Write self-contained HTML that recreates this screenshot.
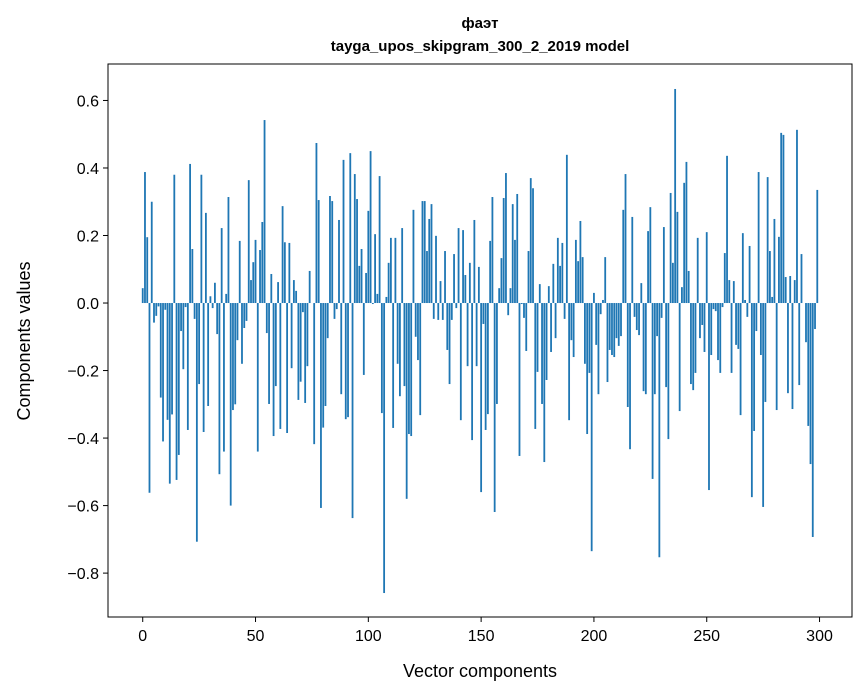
<!DOCTYPE html>
<html><head><meta charset="utf-8">
<style>
body{margin:0;background:#fff;}
svg{display:block;font-family:"Liberation Sans","DejaVu Sans",sans-serif;}
</style></head>
<body>
<svg id="chart" width="867" height="696" viewBox="0 0 867 696" xmlns="http://www.w3.org/2000/svg">
<rect width="867" height="696" fill="#fff"/>
<text x="480" y="28" text-anchor="middle" font-size="15" font-weight="bold">фаэт</text>
<text x="480" y="51" text-anchor="middle" font-size="15" font-weight="bold">tayga_upos_skipgram_300_2_2019 model</text>
<g id="bars"></g>
<g id="axes"></g>
<text x="480" y="677" text-anchor="middle" font-size="18">Vector components</text>
<text transform="translate(30,341) rotate(-90)" text-anchor="middle" font-size="18">Components values</text>
</svg>
<script>
const values = [0.044,0.388,0.195,-0.562,0.30,-0.058,-0.038,-0.01,-0.28,-0.41,
-0.02,-0.346,-0.535,-0.33,0.38,-0.524,-0.45,-0.083,-0.196,-0.012,
-0.376,0.412,0.16,-0.047,-0.707,-0.24,0.38,-0.382,0.267,-0.305,
0.02,-0.015,0.06,-0.092,-0.507,0.222,-0.44,0.027,0.314,-0.60,
-0.317,-0.30,-0.11,0.184,-0.18,-0.074,-0.053,0.364,0.068,0.121,
0.187,-0.44,0.157,0.24,0.542,-0.089,-0.299,0.086,-0.394,-0.246,
0.062,-0.373,0.287,0.18,-0.385,0.178,-0.193,0.068,0.036,-0.287,
-0.233,-0.027,-0.296,-0.187,0.095,0.0,-0.418,0.474,0.305,-0.607,
-0.369,-0.305,-0.104,0.317,0.302,-0.047,-0.018,0.246,-0.27,0.424,
-0.344,-0.338,0.444,-0.637,0.382,0.308,0.11,0.16,-0.213,0.089,
0.273,0.45,-0.003,0.204,0.027,0.376,-0.326,-0.859,0.018,0.119,
0.193,-0.37,0.193,-0.18,-0.276,0.222,-0.246,-0.58,-0.388,-0.394,
0.276,-0.10,-0.169,-0.332,0.302,0.302,0.154,0.249,0.293,-0.047,
0.199,-0.05,0.065,-0.05,0.154,-0.139,-0.24,-0.05,0.145,-0.015,
0.222,-0.347,0.216,0.083,-0.187,0.119,-0.406,0.246,-0.187,0.107,
-0.56,-0.062,-0.376,-0.329,0.184,0.314,-0.619,-0.299,0.044,0.133,
0.311,0.385,-0.036,0.044,0.293,0.187,0.323,-0.453,-0.003,-0.044,
-0.142,0.154,0.37,0.34,-0.373,-0.204,0.056,-0.299,-0.471,-0.228,
0.05,-0.145,0.116,-0.104,0.193,0.11,0.178,-0.047,0.439,-0.347,
-0.11,-0.16,0.187,0.124,0.243,0.136,-0.18,-0.388,-0.207,-0.735,
0.03,-0.124,-0.27,-0.033,0.009,0.136,-0.234,-0.139,-0.154,-0.16,
-0.104,-0.127,-0.098,0.276,0.382,-0.308,-0.433,0.255,-0.041,-0.08,
-0.095,0.059,-0.261,-0.27,0.213,0.284,-0.521,-0.27,-0.098,-0.753,
-0.044,0.225,-0.249,-0.403,0.326,0.119,0.634,0.27,-0.32,0.047,
0.356,0.418,0.095,-0.24,-0.258,-0.207,0.193,-0.104,-0.065,-0.145,
0.21,-0.554,-0.154,-0.018,-0.024,-0.169,-0.207,-0.012,0.148,0.436,
0.068,-0.207,0.065,-0.124,-0.136,-0.332,0.207,0.009,-0.041,0.169,
-0.575,-0.379,-0.083,0.388,-0.154,-0.604,-0.293,0.373,0.154,0.018,
0.249,-0.317,0.196,0.504,0.498,0.077,-0.267,0.08,-0.314,0.068,
0.513,-0.243,0.145,0.0,-0.116,-0.364,-0.477,-0.693,-0.077,0.335];
const xTicks = [0,50,100,150,200,250,300];
const yTicks = [-0.8,-0.6,-0.4,-0.2,0.0,0.2,0.4,0.6];

const NS="http://www.w3.org/2000/svg";
const L=108,R=852,T=64,B=617;
const n=values.length;
const xmin=-0.4-0.05*(n-0.2), xmax=(n-1)+0.4+0.05*(n-0.2);
const ymin=-0.930, ymax=0.708;
function xs(v){return L+(v-xmin)/(xmax-xmin)*(R-L);}
function ys(v){return B-(v-ymin)/(ymax-ymin)*(B-T);}
const bars=document.getElementById('bars');
values.forEach((v,i)=>{
  const r=document.createElementNS(NS,'rect');
  const x0=xs(i-0.4),x1=xs(i+0.4);
  const y0=ys(Math.max(v,0)),y1=ys(Math.min(v,0));
  r.setAttribute('x',x0);r.setAttribute('width',x1-x0);
  r.setAttribute('y',y0);r.setAttribute('height',Math.max(y1-y0,0.01));
  r.setAttribute('fill','#1f77b4');
  
  
  bars.appendChild(r);
});
const axes=document.getElementById('axes');
const frame=document.createElementNS(NS,'rect');
frame.setAttribute('x',L);frame.setAttribute('y',T);frame.setAttribute('width',R-L);frame.setAttribute('height',B-T);
frame.setAttribute('fill','none');frame.setAttribute('stroke','#000');frame.setAttribute('stroke-width','1');


axes.appendChild(frame);
xTicks.forEach(t=>{
  const x=xs(t);
  const l=document.createElementNS(NS,'line');
  l.setAttribute('x1',x);l.setAttribute('x2',x);l.setAttribute('y1',B);l.setAttribute('y2',B+5);l.setAttribute('stroke','#000');
  
  
  axes.appendChild(l);
  const tx=document.createElementNS(NS,'text');
  tx.setAttribute('x',x);tx.setAttribute('y',B+24);tx.setAttribute('text-anchor','middle');tx.setAttribute('font-size','16');
  tx.textContent=t;
  
  
  axes.appendChild(tx);
});
yTicks.forEach(t=>{
  const y=ys(t);
  const l=document.createElementNS(NS,'line');
  l.setAttribute('x1',L-5);l.setAttribute('x2',L);l.setAttribute('y1',y);l.setAttribute('y2',y);l.setAttribute('stroke','#000');
  
  
  axes.appendChild(l);
  const tx=document.createElementNS(NS,'text');
  tx.setAttribute('x',L-9);tx.setAttribute('y',y+6);tx.setAttribute('text-anchor','end');tx.setAttribute('font-size','16');
  tx.textContent=(t<0?'\u2212':'')+Math.abs(t).toFixed(1);
  
  
  axes.appendChild(tx);
});
</script>
</body></html>
